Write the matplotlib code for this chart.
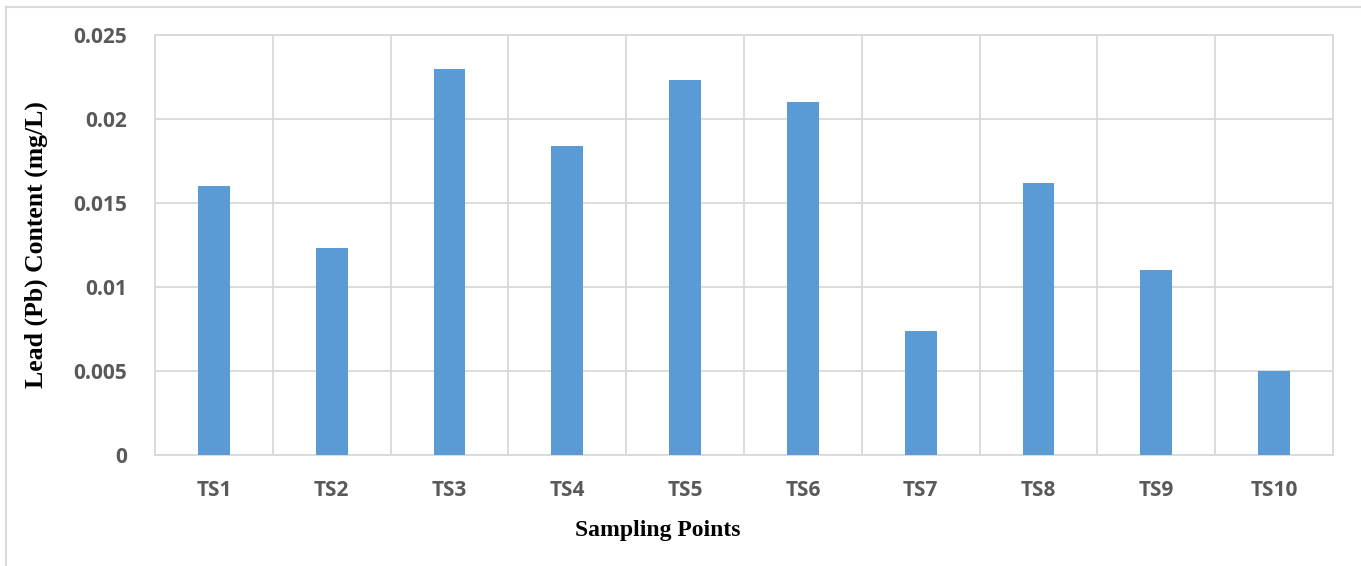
import numpy as np
from matplotlib import pyplot as plt
from matplotlib.patches import Rectangle

points = ["TS1", "TS2", "TS3", "TS4", "TS5", "TS6", "TS7", "TS8", "TS9", "TS10"]
lead = [0.016, 0.0123, 0.023, 0.0184, 0.0223, 0.021, 0.0074, 0.0162, 0.011, 0.005]
y_ticks = [0, 0.005, 0.01, 0.015, 0.02, 0.025]
y_tick_labels = ["0", "0.005", "0.01", "0.015", "0.02", "0.025"]

fig = plt.figure(figsize=(13.61, 5.66), dpi=100)
ax = fig.add_axes([0.1139, 0.1961, 0.8655, 0.7421])

# light outer frame like the exported chart box
fig.patches.append(Rectangle((0.0045, -0.01), 1.0, 0.9985, transform=fig.transFigure,
                             fill=False, edgecolor="#d9d9d9", linewidth=1.5))

x = np.arange(len(points))
ax.bar(x, lead, width=0.27, color="#5b9bd5", zorder=3)

ax.set_xlim(-0.5, len(points) - 0.5)
ax.set_ylim(0, 0.025)
ax.set_yticks(y_ticks)
ax.set_yticklabels(y_tick_labels)
ax.set_xticks(x)
ax.set_xticklabels(points)
ax.set_xticks(np.arange(len(points) + 1) - 0.5, minor=True)

grid_col = "#d9d9d9"
ax.grid(axis="y", which="major", color=grid_col, linewidth=1.3, zorder=0)
ax.grid(axis="x", which="minor", color=grid_col, linewidth=1.3, zorder=0)
for s in ax.spines.values():
    s.set_color(grid_col)
    s.set_linewidth(1.3)

ax.tick_params(which="both", length=0)
ax.tick_params(axis="y", pad=20)
ax.tick_params(axis="x", pad=18)
for lab in ax.get_xticklabels() + ax.get_yticklabels():
    lab.set_fontfamily("Open Sans")
    lab.set_fontweight("bold")
    lab.set_fontsize(15)
    lab.set_color("#595959")

ax.set_xlabel("Sampling Points", fontfamily="Liberation Serif", fontweight="bold",
              fontsize=17)
ax.xaxis.set_label_coords(0.427, -0.155)
ax.set_ylabel("Lead (Pb) Content (mg/L)", fontfamily="Liberation Serif", fontweight="bold",
              fontsize=18.5, labelpad=18)

fig.savefig("out.png", dpi=100)
